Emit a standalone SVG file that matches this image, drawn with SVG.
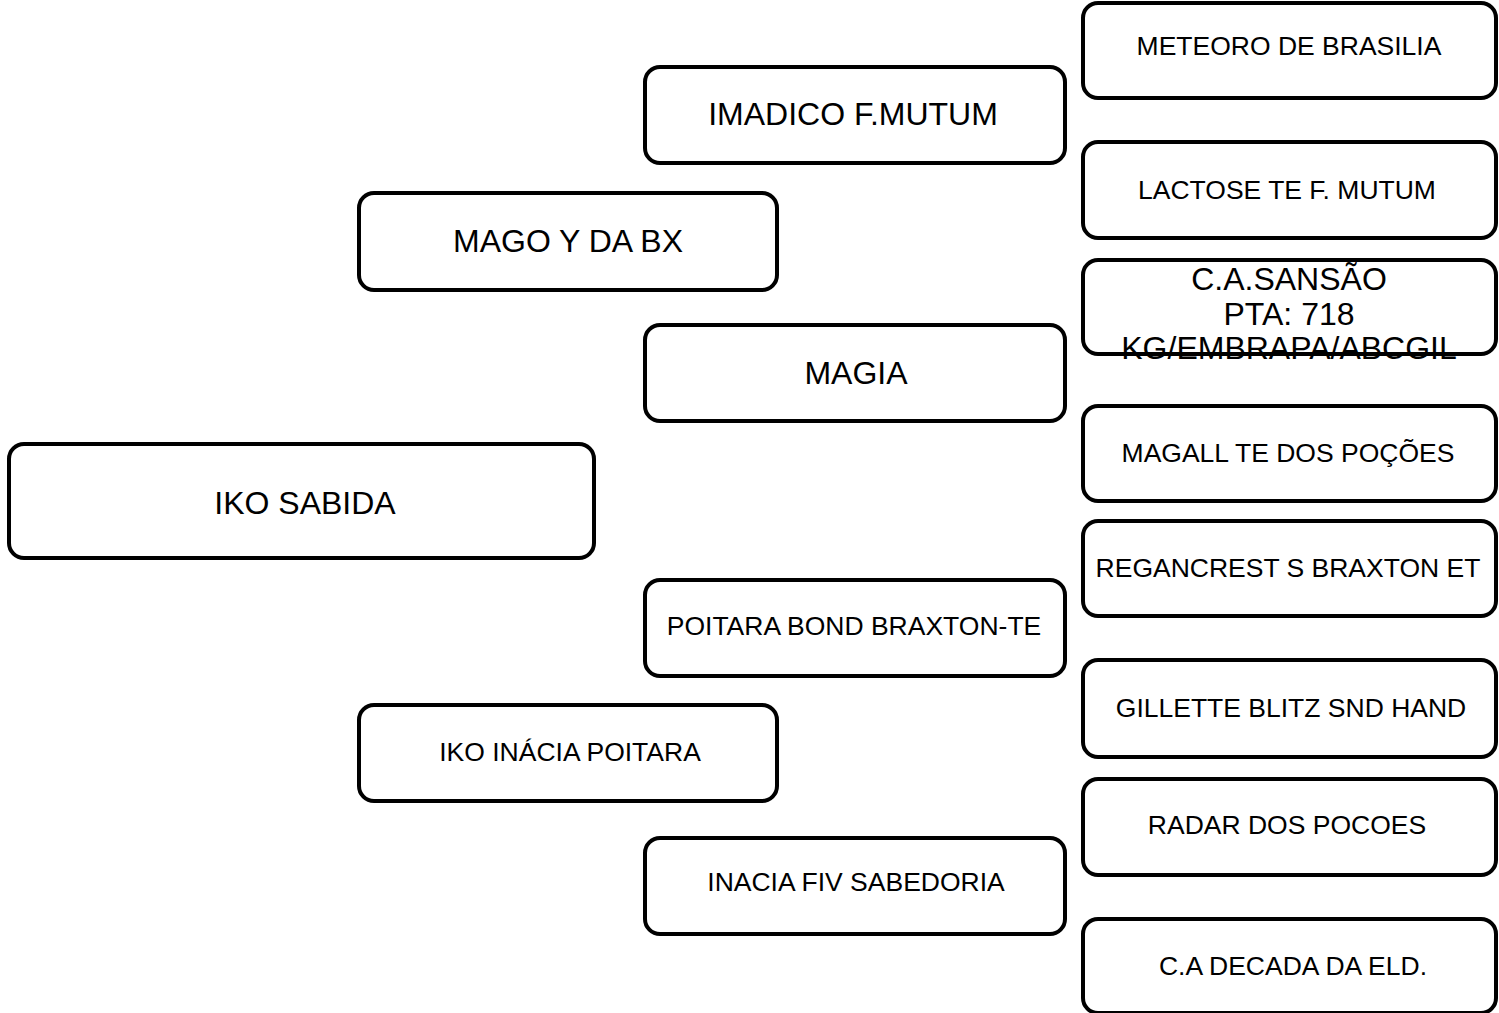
<svg xmlns="http://www.w3.org/2000/svg" width="1499" height="1013" viewBox="0 0 1499 1013">
<style>
.box{fill:#fff;stroke:#000;stroke-width:4;}
.t{font-family:"Liberation Sans",Arial,sans-serif;fill:#000;text-anchor:middle;}
.s{font-size:26.5px;}
.l{font-size:32px;}
</style>
<rect width="1499" height="1013" fill="#fff"/>
<g id="connectors"></g>
<g id="n-iko-sabida"><rect class="box" x="9" y="444" width="585" height="114" rx="15"/><text class="t l" x="305" y="514">IKO SABIDA</text></g>
<g id="n-mago"><rect class="box" x="359" y="193" width="418" height="97" rx="15"/><text class="t l" x="568" y="252">MAGO Y DA BX</text></g>
<g id="n-iko-inacia"><rect class="box" x="359" y="705" width="418" height="96" rx="15"/><text class="t s" x="570" y="761">IKO INÁCIA POITARA</text></g>
<g id="n-imadico"><rect class="box" x="645" y="67" width="420" height="96" rx="15"/><text class="t l" x="853" y="125">IMADICO F.MUTUM</text></g>
<g id="n-magia"><rect class="box" x="645" y="325" width="420" height="96" rx="15"/><text class="t l" x="856" y="384">MAGIA</text></g>
<g id="n-poitara"><rect class="box" x="645" y="580" width="420" height="96" rx="15"/><text class="t s" x="854" y="635">POITARA BOND BRAXTON-TE</text></g>
<g id="n-inacia-fiv"><rect class="box" x="645" y="838" width="420" height="96" rx="15"/><text class="t s" x="856" y="891">INACIA FIV SABEDORIA</text></g>
<g id="n-meteoro"><rect class="box" x="1083" y="3" width="413" height="95" rx="15"/><text class="t s" x="1289" y="55">METEORO DE BRASILIA</text></g>
<g id="n-lactose"><rect class="box" x="1083" y="142" width="413" height="96" rx="15"/><text class="t s" x="1287" y="199">LACTOSE TE F. MUTUM</text></g>
<g id="n-sansao"><rect class="box" x="1083" y="260" width="413" height="94" rx="15"/><text class="t l" x="1289" y="290">C.A.SANSÃO</text><text class="t l" x="1289" y="325">PTA: 718</text><text class="t l" x="1289" y="359">KG/EMBRAPA/ABCGIL</text></g>
<g id="n-magall"><rect class="box" x="1083" y="406" width="413" height="95" rx="15"/><text class="t s" x="1288" y="462">MAGALL TE DOS POÇÕES</text></g>
<g id="n-regancrest"><rect class="box" x="1083" y="521" width="413" height="95" rx="15"/><text class="t s" x="1288" y="577">REGANCREST S BRAXTON ET</text></g>
<g id="n-gillette"><rect class="box" x="1083" y="660" width="413" height="97" rx="15"/><text class="t s" x="1291" y="717">GILLETTE BLITZ SND HAND</text></g>
<g id="n-radar"><rect class="box" x="1083" y="779" width="413" height="96" rx="15"/><text class="t s" x="1287" y="834">RADAR DOS POCOES</text></g>
<g id="n-decada"><rect class="box" x="1083" y="919" width="413" height="94" rx="15"/><text class="t s" x="1293" y="975">C.A DECADA DA ELD.</text></g>
</svg>
